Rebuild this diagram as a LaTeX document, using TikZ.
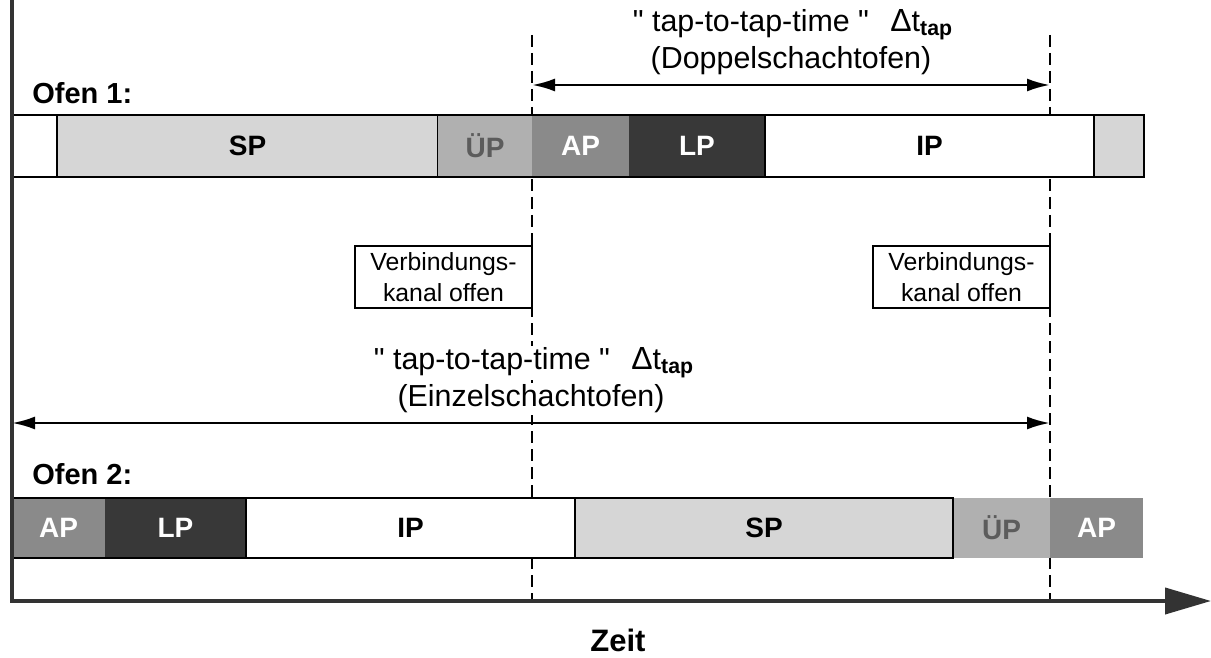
\documentclass[tikz,border=0pt]{standalone}
\usepackage{fontspec}
\setmainfont{Liberation Sans}
\usetikzlibrary{arrows.meta}
\definecolor{spgray}{HTML}{D6D6D6}
\definecolor{upgray}{HTML}{B0B0B0}
\definecolor{apgray}{HTML}{8A8A8A}
\definecolor{lpgray}{HTML}{383838}
\definecolor{uptext}{HTML}{5C5C5C}
\definecolor{axisgray}{HTML}{333333}
\newcommand{\taplabel}{\textquotedbl\ tap-to-tap-time \textquotedbl\hspace{0.7em}{\fontsize{16}{17}\selectfont Δ}t\textsubscript{\bfseries tap}}
\begin{document}
\begin{tikzpicture}[x=0.5pt,y=-0.5pt,
  seg/.style={rectangle,inner sep=0pt,outer sep=0pt,anchor=west,
    font=\fontsize{14}{16}\selectfont\bfseries},
  segtop/.style={seg,minimum height=31pt},
  segbot/.style={seg,minimum height=30pt},
  framed/.style={draw=black,line width=0.8pt},
  barline/.style={draw=black,line width=1pt},
  ofen/.style={anchor=west,inner sep=0pt,font=\fontsize{14.5}{17}\selectfont\bfseries},
  annot/.style={inner sep=1pt,fill=white,font=\fontsize{15.2}{17}\selectfont},
  vbox/.style={draw=black,fill=white,line width=1.2pt,inner sep=0pt,minimum width=88.5pt,
    minimum height=31pt,align=center,font=\fontsize{12.4}{15.5}\selectfont},
  timeline/.style={dashed,dash pattern=on 6pt off 3pt,line width=0.7pt},
  dimarrow/.style={line width=1.3pt,{Latex[length=11.5pt,width=6.5pt]}-{Latex[length=11.5pt,width=6.5pt]}},
  axisline/.style={draw=axisgray}
]
\useasboundingbox (0,0) rectangle (1211,658);

% ---- dashed time marks (behind everything) ----
\coordinate (d1t) at (532,35);
\coordinate (d1b) at (532,601);
\coordinate (d2t) at (1050,35);
\coordinate (d2b) at (1050,601);
\draw[timeline] (d1t) -- (d1b);
\draw[timeline] (d2t) -- (d2b);

% ---- Ofen 1 bar ----
\node[ofen] (ofen1) at (32,93) {Ofen 1:};
\node[segtop,fill=white,framed,minimum width=22.25pt] (t0) at (12,146) {};
\node[segtop,fill=spgray,framed,minimum width=190.5pt] (sp1) at (57,146) {SP};
\node[segtop,fill=upgray,text=uptext,minimum width=47pt] (up1) at (438,146) {ÜP};
\node[segtop,fill=apgray,text=white,minimum width=48.5pt] (ap1) at (532,146) {AP};
\node[segtop,fill=lpgray,text=white,minimum width=68pt] (lp1) at (629,146) {LP};
\node[segtop,fill=white,framed,minimum width=164.5pt] (ip1) at (765,146) {IP};
\node[segtop,fill=spgray,framed,minimum width=25pt] (end1) at (1094,146) {};
\draw[barline] (t0.north west) rectangle (end1.south east);

% ---- Ofen 2 bar ----
\node[ofen] (ofen2) at (32,474) {Ofen 2:};
\node[segbot,fill=apgray,text=white,minimum width=46.5pt] (ap2) at (12,528) {AP};
\node[segbot,fill=lpgray,text=white,minimum width=70.5pt] (lp2) at (105,528) {LP};
\node[segbot,fill=white,framed,minimum width=164.5pt] (ip2) at (246,528) {IP};
\node[segbot,fill=spgray,framed,minimum width=189pt] (sp2) at (575,528) {SP};
\node[segbot,fill=upgray,text=uptext,minimum width=48.5pt] (up2) at (953,528) {ÜP};
\node[segbot,fill=apgray,text=white,minimum width=46.5pt] (ap3) at (1050,528) {AP};
\draw[barline] (ap2.north west) rectangle (sp2.south east);

% ---- tap-to-tap (Doppelschachtofen) ----
\node[annot] (tap1) at (793,25) {\taplabel};
\node[annot] (dopp) at (791,61) {(Doppelschachtofen)};
\coordinate (a1l) at (532,85);
\coordinate (a1r) at (1050,85);
\draw[dimarrow] (a1l) -- (a1r);

% ---- Verbindungskanal boxes ----
\node[vbox] (vb1) at (443.5,277) {Verbindungs-\\kanal offen};
\node[vbox] (vb2) at (961.5,277) {Verbindungs-\\kanal offen};

% ---- tap-to-tap (Einzelschachtofen) ----
\node[annot] (tap2) at (534,363) {\taplabel};
\node[annot] (einz) at (531,399) {(Einzelschachtofen)};
\coordinate (a2l) at (12,423);
\coordinate (a2r) at (1050,423);
\draw[dimarrow] (a2l) -- (a2r);

% ---- axes ----
\coordinate (ytop) at (12,0);
\coordinate (orig) at (12,601);
\coordinate (xend) at (1211,601);
\draw[axisline,line width=2pt] (ytop) -- ([yshift=-1pt]orig);
\draw[axisline,line width=2pt,-{Triangle[length=23pt,width=13pt,fill=axisgray]}] ([xshift=-1pt]orig) -- (xend);
\node[inner sep=0pt,font=\fontsize{15.5}{18}\selectfont\bfseries] (zeit) at (618,640) {Zeit};
\end{tikzpicture}
\end{document}
